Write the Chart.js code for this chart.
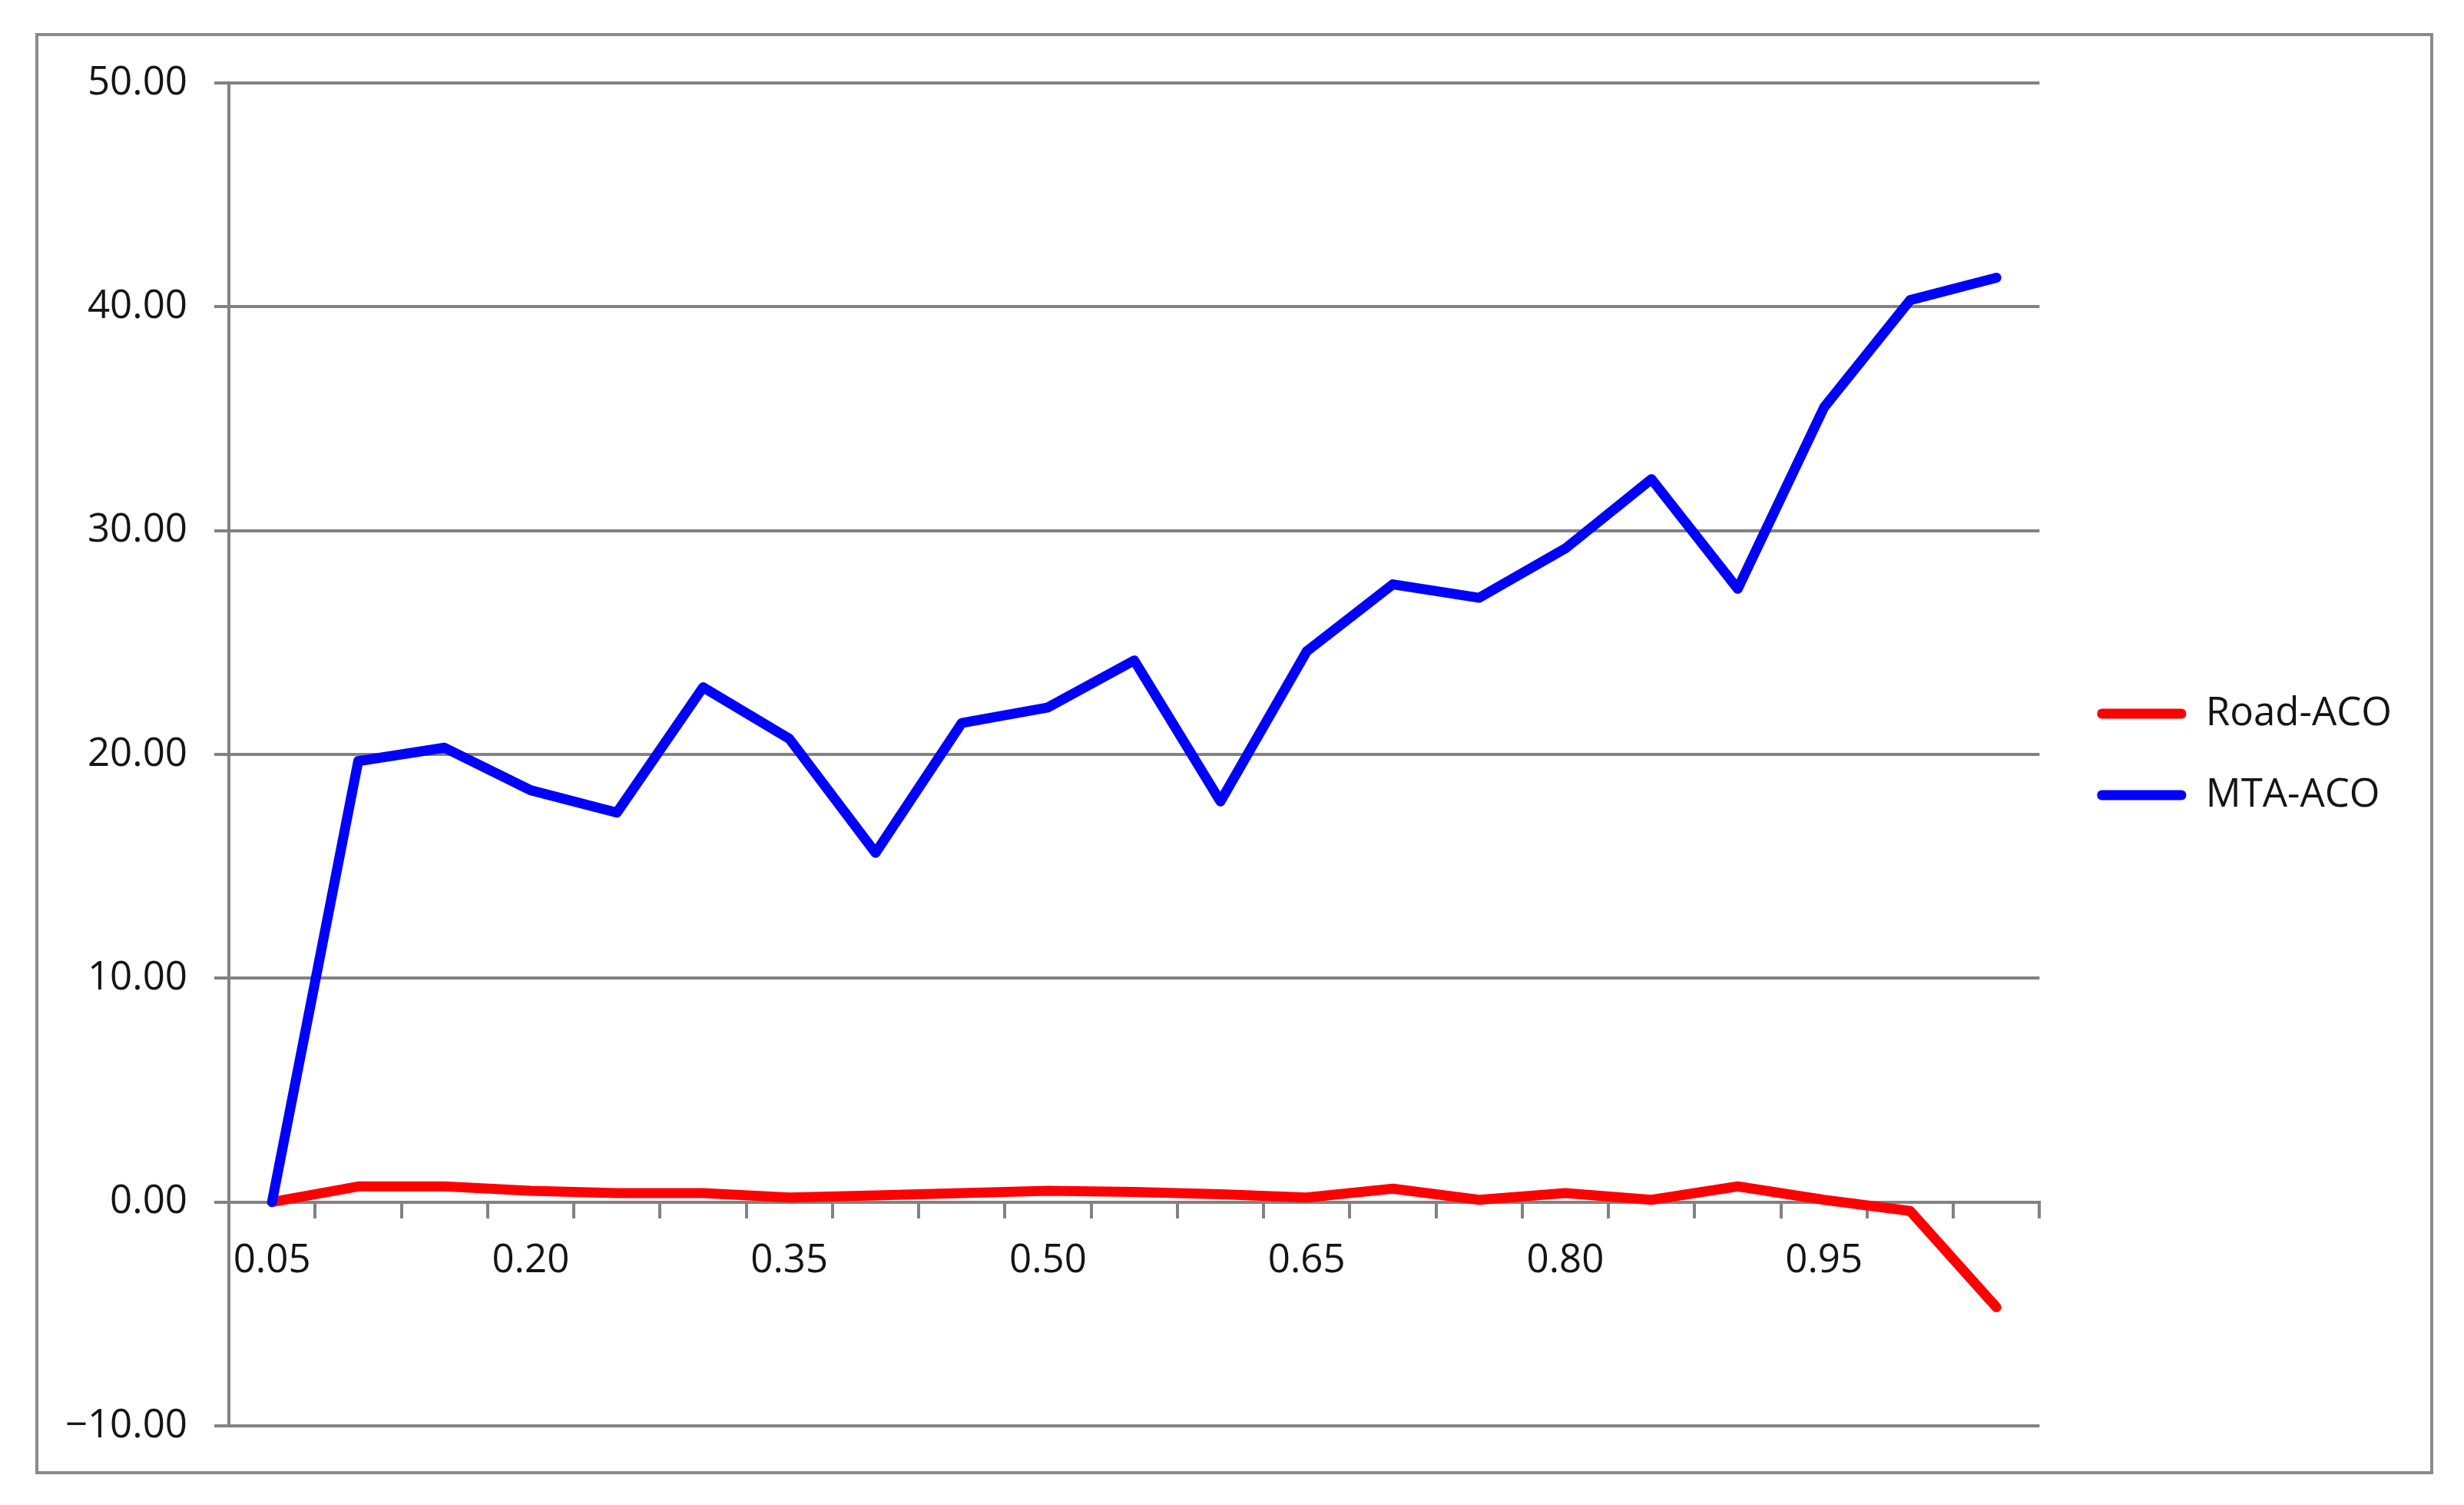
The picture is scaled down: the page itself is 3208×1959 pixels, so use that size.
<!DOCTYPE html>
<html>
<head>
<meta charset="utf-8">
<script src="https://cdn.jsdelivr.net/npm/chart.js@4"></script>
<style>
  html, body { margin: 0; padding: 0; background: #fff; }
  #frame {
    position: absolute; left: 46px; top: 43px; width: 3122px; height: 1876px;
    box-sizing: border-box; border: 4px solid #8a8a8a; pointer-events: none;
  }
  canvas { display: block; }
</style>
</head>
<body>
<canvas id="chart" width="3208" height="1959"></canvas>
<div id="frame"></div>
<script>
// categories on the x axis
let categories = ['0.05', '0.10', '0.15', '0.20', '0.25', '0.30', '0.35', '0.40', '0.45', '0.50',
    '0.55', '0.60', '0.65', '0.70', '0.75', '0.80', '0.85', '0.90', '0.95', '1.00', '1.05'];

// series values
let roadAco = [0, 0.7, 0.7, 0.5, 0.4, 0.4, 0.2, 0.3, 0.4, 0.5,
    0.45, 0.35, 0.2, 0.6, 0.1, 0.4, 0.1, 0.7, 0.1, -0.4, -4.7];
let mtaAco = [0, 19.7, 20.3, 18.4, 17.4, 23.0, 20.7, 15.6, 21.4, 22.1,
    24.2, 17.9, 24.6, 27.6, 27.0, 29.2, 32.3, 27.4, 35.5, 40.3, 41.3];

let seriesNames = ['Road-ACO', 'MTA-ACO'];
let seriesColors = ['#ff0000', '#0000ff'];

// y axis ticks
let yMin = -10;
let yMax = 50;
let yStep = 10;

const gridColor = '#828282';
const textColor = '#141414';
const fontFamily = "'Open Sans', 'Noto Sans', sans-serif";

const ctx = document.getElementById('chart');

new Chart(ctx, {
    type: 'line',
    data: {
        labels: categories,
        datasets: [
            {
                label: seriesNames[0],
                data: roadAco,
                borderColor: seriesColors[0],
                backgroundColor: seriesColors[0],
                borderWidth: 13,
                pointRadius: 0,
                tension: 0,
                borderJoinStyle: 'round',
                borderCapStyle: 'round',
                order: 2
            },
            {
                label: seriesNames[1],
                data: mtaAco,
                borderColor: seriesColors[1],
                backgroundColor: seriesColors[1],
                borderWidth: 13,
                pointRadius: 0,
                tension: 0,
                borderJoinStyle: 'round',
                borderCapStyle: 'round',
                order: 1
            }
        ]
    },
    options: {
        responsive: false,
        devicePixelRatio: 1,
        animation: false,
        layout: {
            padding: { left: 0, top: 108, right: 84, bottom: 103 }
        },
        plugins: {
            tooltip: { enabled: false },
            legend: {
                position: 'right',
                align: 'center',
                labels: {
                    boxWidth: 116,
                    boxHeight: 13,
                    padding: 55,
                    color: textColor,
                    font: { family: fontFamily, size: 51 },
                    generateLabels: (chart) => seriesNames.map((name, i) => ({
                        text: name,
                        fillStyle: seriesColors[i],
                        strokeStyle: seriesColors[i],
                        lineWidth: 0,
                        borderRadius: 6,
                        fontColor: textColor,
                        hidden: false,
                        datasetIndex: i
                    }))
                }
            }
        },
        scales: {
            x: {
                position: { y: 0 },
                offset: true,
                afterFit: (scale) => { scale.height = 0; },
                grid: {
                    display: true,
                    offset: true,
                    drawOnChartArea: false,
                    drawTicks: true,
                    tickLength: 19,
                    color: gridColor,
                    lineWidth: 4
                },
                border: { display: true, color: gridColor, width: 4 },
                ticks: {
                    autoSkip: false,
                    maxRotation: 0,
                    padding: 27,
                    color: textColor,
                    font: { family: fontFamily, size: 51 },
                    callback: (value, index) => index % 3 === 0 ? categories[index] : ''
                }
            },
            y: {
                min: yMin,
                max: yMax,
                afterFit: (scale) => { scale.width = 298; },
                grid: {
                    color: gridColor,
                    lineWidth: 4,
                    tickLength: 19
                },
                border: { display: true, color: gridColor, width: 4 },
                ticks: {
                    stepSize: yStep,
                    padding: 35,
                    color: textColor,
                    font: { family: fontFamily, size: 51 },
                    callback: (value) => (value < 0 ? '\u2212' : '') + Math.abs(value).toFixed(2)
                }
            },
            // empty spacer between plot and legend
            spacer: {
                type: 'linear',
                position: 'right',
                grid: { display: false },
                border: { display: false },
                ticks: { display: false },
                afterFit: (scale) => { scale.width = 20; }
            }
        }
    }
});
</script>
</body>
</html>
